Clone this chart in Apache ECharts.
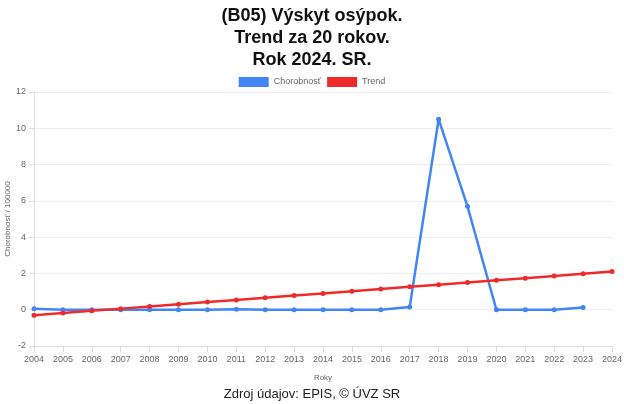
<!DOCTYPE html>
<html><head><meta charset="utf-8">
<script src="https://cdn.jsdelivr.net/npm/echarts@6/dist/echarts.min.js"></script>
<style>html,body{margin:0;padding:0;background:#fff}#c{width:624px;height:404px}</style>
</head><body><div id="c"></div>
<script>
const years = ['2004','2005','2006','2007','2008','2009','2010','2011','2012','2013','2014','2015','2016','2017','2018','2019','2020','2021','2022','2023','2024'];
const chorobnost = [0.05,0.0,0.0,0.0,0.0,0.0,0.0,0.03,0.0,0.0,0.0,0.0,0.0,0.15,10.5,5.7,0.0,0.0,0.0,0.12,null];
const trend = [-0.30,-0.18,-0.06,0.06,0.18,0.30,0.42,0.54,0.66,0.78,0.90,1.02,1.14,1.26,1.38,1.50,1.62,1.74,1.86,1.98,2.10];
const titleLines = ['(B05) Výskyt osýpok.','Trend za 20 rokov.','Rok 2024. SR.'];
const chart = echarts.init(document.getElementById('c'));
chart.setOption({
  animation:false,
  title:[{text:titleLines.join('\n'),left:'center',top:0,textStyle:{fontFamily:'Arial, Liberation Sans',fontSize:18,fontWeight:'bold',color:'#111',lineHeight:22}},
    {text:'Zdroj údajov: EPIS, © ÚVZ SR',left:'center',top:383,textStyle:{fontFamily:'Arial, Liberation Sans',fontSize:13,fontWeight:'normal',color:'#222'}}],
  legend:{top:72,left:'center',itemWidth:30,itemHeight:10,itemGap:6,icon:'rect',textStyle:{fontSize:9,color:'#666',fontFamily:'Arial, Liberation Sans'},data:['Chorobnosť','Trend']},
  grid:{left:34,right:12,top:92,bottom:58,containLabel:false,outerBoundsMode:'none'},
  xAxis:{type:'category',data:years,boundaryGap:false,name:'Roky',nameLocation:'middle',nameGap:28,
    nameTextStyle:{fontSize:8,color:'#666',align:'center'},
    axisLine:{onZero:false,lineStyle:{color:'#ddd'}},axisTick:{show:true,length:6,lineStyle:{color:'#ddd'}},
    axisLabel:{fontSize:9,color:'#666',margin:9},
    splitLine:{show:false}},
  yAxis:{type:'value',min:-2,max:12,interval:2,name:'Chorobnosť / 100000',nameLocation:'middle',nameGap:22,nameMoveOverlap:false,
    nameTextStyle:{fontSize:8,color:'#666'},
    axisLine:{show:true,lineStyle:{color:'#ddd'}},axisTick:{show:true,length:5,lineStyle:{color:'#ddd'}},
    axisLabel:{fontSize:9,color:'#666',margin:8},
    splitLine:{lineStyle:{color:'#eee'}}},
  series:[
    {name:'Chorobnosť',type:'line',data:chorobnost,color:'#4285f4',symbol:'circle',symbolSize:5,lineStyle:{width:2.5,color:'#4285f4'},itemStyle:{color:'#4285f4'}},
    {name:'Trend',type:'line',data:trend,color:'#ee2b2b',symbol:'circle',symbolSize:5,lineStyle:{width:2.5,color:'#ee2b2b'},itemStyle:{color:'#ee2b2b'}}
  ]
});
</script></body></html>
